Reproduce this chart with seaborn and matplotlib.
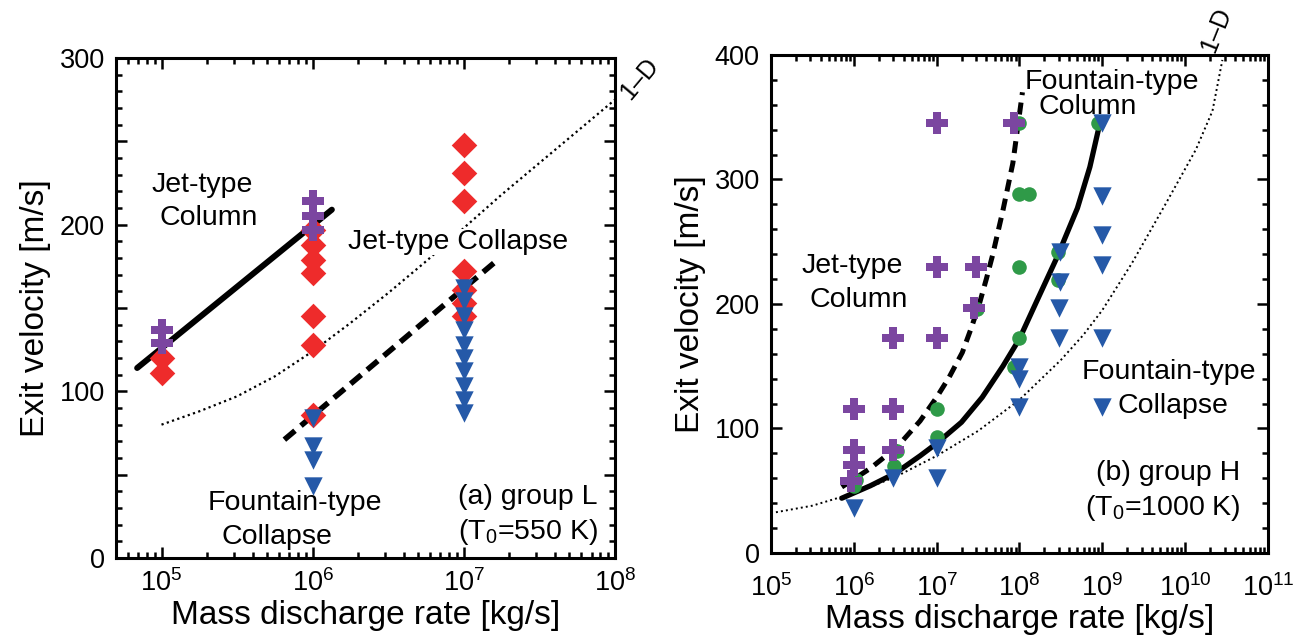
import numpy as np
import pandas as pd
import matplotlib
matplotlib.use("Agg")
import matplotlib.pyplot as plt
import matplotlib.ticker as mticker
import seaborn as sns

# ---------------- group L (T0 = 550 K) ----------------
L_jetcol_m = [1e5, 1e5, 1e6, 1e6, 1e6]
L_jetcol_v = [137, 129, 214, 205, 197]

L_jetcoll_m = [1e5, 1e5,
               1e6, 1e6, 1e6, 1e6, 1e6, 1e6, 1e6,
               1e7, 1e7, 1e7, 1e7, 1e7, 1e7, 1e7]
L_jetcoll_v = [120, 111,
               197, 188, 179, 171, 145, 128, 86,
               248, 231, 214, 172, 161, 153, 145]

L_fountcoll_m = [1e6, 1e6, 1e6, 1e6,
                 1e7, 1e7, 1e7, 1e7, 1e7, 1e7, 1e7, 1e7, 1e7, 1e7]
L_fountcoll_v = [84, 67, 59, 43,
                 162, 154, 145, 137, 128, 120, 112, 103, 95, 87]

L_solid_m = [6.9e4, 1.34e6]
L_solid_v = [114, 209]
L_dash_m = [6.5e5, 1.68e7]
L_dash_v = [71, 179]
L_1d_logm = [5.0, 5.25, 5.5, 5.75, 6.0, 6.25, 6.5, 6.75, 7.0, 7.25, 7.5, 7.75, 8.0]
L_1d_v = [80, 88, 97, 109, 124, 141, 159, 178, 198, 218, 237, 256, 275]

# ---------------- group H (T0 = 1000 K) ----------------
H_jetcol_m = [1e6, 3e6, 1e6, 3e6, 1e6, 0.93e6, 3e6, 1e7, 1e7, 3e7, 2.8e7, 1e7, 8.7e7]
H_jetcol_v = [116, 116, 83, 83, 71, 58, 173, 173, 230, 230, 197, 345, 345]

H_fountcol_m = [1.05e6, 1e6, 3.3e6, 3.1e6, 1e7, 1e7, 3.1e7, 8.7e7, 1e8, 1e8,
                1e8, 1.3e8, 1e8, 2.9e8, 2.9e8, 9e8]
H_fountcol_v = [59, 54, 82, 70, 93, 116, 196, 149, 173, 230,
                288, 288, 345, 242, 219, 345]

H_fountcoll_m = [1e6, 3e6, 1e7, 1e7, 1e8, 1e8, 1e8, 3.1e8, 3.1e8, 3e8, 3e8,
                 1e9, 1e9, 1e9, 1e9, 1e9, 1e9]
H_fountcoll_v = [36, 60, 60, 84, 149, 140, 117, 242, 218, 197, 173,
                 345, 287, 255, 231, 173, 117]

H_solid_logm = [5.855, 6.2, 6.5, 6.8, 7.0, 7.3, 7.55, 7.8, 8.0, 8.2, 8.45, 8.7, 8.85, 8.96]
H_solid_v = [44, 54, 64, 78, 88, 105, 125, 150, 172, 201, 237, 277, 310, 342]
H_dash_logm = [5.855, 6.2, 6.52, 6.8, 7.0, 7.15, 7.31, 7.42, 7.52, 7.6, 7.675, 7.8, 7.92, 8.036]
H_dash_v = [53, 68, 85, 106, 125, 141, 161, 181, 201, 220, 239, 275, 313, 370]
H_1d_logm = [5.0, 5.5, 6.0, 6.5, 7.0, 7.5, 8.0, 8.5, 8.77, 9.0, 9.36, 9.77, 10.13, 10.33, 10.45]
H_1d_v = [32, 38, 48, 61, 78, 98, 123, 155, 175, 195, 233, 281, 324, 355, 396]

PURPLE = "#7b46a0"
RED = "#ee2b2b"
BLUE = "#2559a8"
GREEN = "#2f9a48"
FS_TXT = 20.5
FS_TICK = 19.5
FS_LAB = 24

sns.set_style("ticks")
plt.rcParams['font.family'] = ['Liberation Sans', 'DejaVu Sans']
plt.rcParams['mathtext.fontset'] = 'custom'
plt.rcParams['mathtext.rm'] = 'Liberation Sans'
plt.rcParams['mathtext.it'] = 'Liberation Sans:italic'
plt.rcParams['text.color'] = 'black'
plt.rcParams['axes.labelcolor'] = 'black'

fig = plt.figure(figsize=(12.99, 6.41), dpi=100)
axL = fig.add_axes([0.0893, 0.1295, 0.3841, 0.780])
axR = fig.add_axes([0.5935, 0.1373, 0.3826, 0.777])


def style_axes(ax, xpad):
    ax.set_xscale("log")
    for sp in ax.spines.values():
        sp.set_linewidth(2.2)
        sp.set_color("black")
    ax.tick_params(which="both", direction="in", top=True, right=True,
                   width=1.8, labelsize=FS_TICK, colors="black")
    ax.tick_params(which="major", length=8, pad=8)
    ax.tick_params(axis="x", which="major", pad=xpad)
    ax.tick_params(which="minor", length=4)
    ax.xaxis.set_major_locator(mticker.LogLocator(base=10, numticks=20))
    ax.xaxis.set_minor_locator(mticker.LogLocator(base=10, subs=np.arange(2, 10), numticks=20))
    ax.xaxis.set_minor_formatter(mticker.NullFormatter())
    ax.set_xlabel("Mass discharge rate [kg/s]", fontsize=FS_LAB, labelpad=2)
    ax.set_ylabel("Exit velocity [m/s]", fontsize=FS_LAB, labelpad=6)


def scatter(ax, m, v, marker, color, size):
    sns.scatterplot(x=m, y=v, marker=marker, color=color, s=size,
                    linewidth=0, ax=ax, zorder=5)


def line(ax, m, v, **kw):
    sns.lineplot(x=m, y=v, sort=False, estimator=None, color="black", ax=ax, **kw)


# ---- left panel ----
line(axL, 10 ** np.array(L_1d_logm), L_1d_v, lw=1.6, linestyle=(0, (1, 1.5)), zorder=2)
line(axL, L_solid_m, L_solid_v, lw=4.3, zorder=3)
line(axL, L_dash_m, L_dash_v, lw=4.0, linestyle=(0, (2.5, 1.4)), zorder=3)
scatter(axL, L_jetcoll_m, L_jetcoll_v, "D", RED, 170)
scatter(axL, L_jetcol_m, L_jetcol_v, "P", PURPLE, 230)
scatter(axL, L_fountcoll_m, L_fountcoll_v, "v", BLUE, 175)
style_axes(axL, 8)
axL.set_xlim(5e4, 1e8)
axL.set_ylim(0, 300)
axL.yaxis.set_major_locator(mticker.MultipleLocator(50))
axL.yaxis.set_minor_locator(mticker.MultipleLocator(10))
axL.yaxis.set_major_formatter(mticker.FuncFormatter(
    lambda v, p: f"{int(v)}" if v % 100 == 0 else ""))

tr = axL.transAxes
axL.text(0.072, 0.746, "Jet-type", transform=tr, fontsize=FS_TXT, va="center")
axL.text(0.088, 0.680, "Column", transform=tr, fontsize=FS_TXT, va="center")
axL.text(0.465, 0.632, "Jet-type Collapse", transform=tr, fontsize=FS_TXT, va="center",
         zorder=4, bbox=dict(facecolor="white", edgecolor="none", pad=0))
axL.text(0.184, 0.110, "Fountain-type", transform=tr, fontsize=FS_TXT, va="center")
axL.text(0.212, 0.042, "Collapse", transform=tr, fontsize=FS_TXT, va="center")
axL.text(0.966, 0.122, "(a) group L", transform=tr, fontsize=FS_TXT, va="center", ha="right")
axL.text(0.966, 0.052, "(T$_0$=550 K)", transform=tr, fontsize=FS_TXT, va="center", ha="right")
axL.text(1.05, 0.958, "1–D", transform=tr, fontsize=18, va="center", ha="center",
         rotation=50, clip_on=False)

# ---- right panel ----
line(axR, 10 ** np.array(H_1d_logm), H_1d_v, lw=1.4, linestyle=(0, (1, 1.6)), zorder=2)
line(axR, 10 ** np.array(H_solid_logm), H_solid_v, lw=3.8, zorder=3)
line(axR, 10 ** np.array(H_dash_logm), H_dash_v, lw=3.6, linestyle=(0, (2.4, 1.5)), zorder=3)
scatter(axR, H_fountcol_m, H_fountcol_v, "o", GREEN, 110)
scatter(axR, H_jetcol_m, H_jetcol_v, "P", PURPLE, 230)
scatter(axR, H_fountcoll_m, H_fountcoll_v, "v", BLUE, 175)
style_axes(axR, 15)
axR.set_xlim(1e5, 1e11)
axR.set_ylim(0, 400)
axR.yaxis.set_major_locator(mticker.MultipleLocator(100))
axR.yaxis.set_minor_locator(mticker.MultipleLocator(20))

tr = axR.transAxes
axR.text(0.511, 0.946, "Fountain-type", transform=tr, fontsize=FS_TXT, va="center")
axR.text(0.538, 0.896, "Column", transform=tr, fontsize=FS_TXT, va="center")
axR.text(0.062, 0.576, "Jet-type", transform=tr, fontsize=FS_TXT, va="center")
axR.text(0.078, 0.508, "Column", transform=tr, fontsize=FS_TXT, va="center")
axR.text(0.626, 0.363, "Fountain-type", transform=tr, fontsize=FS_TXT, va="center")
axR.text(0.698, 0.295, "Collapse", transform=tr, fontsize=FS_TXT, va="center")
axR.text(0.945, 0.161, "(b) group H", transform=tr, fontsize=FS_TXT, va="center", ha="right")
axR.text(0.945, 0.090, "(T$_0$=1000 K)", transform=tr, fontsize=FS_TXT, va="center", ha="right")
axR.text(0.895, 1.05, "1–D", transform=tr, fontsize=18, va="center", ha="center",
         rotation=68, clip_on=False)

fig.savefig("out.png", dpi=100)
